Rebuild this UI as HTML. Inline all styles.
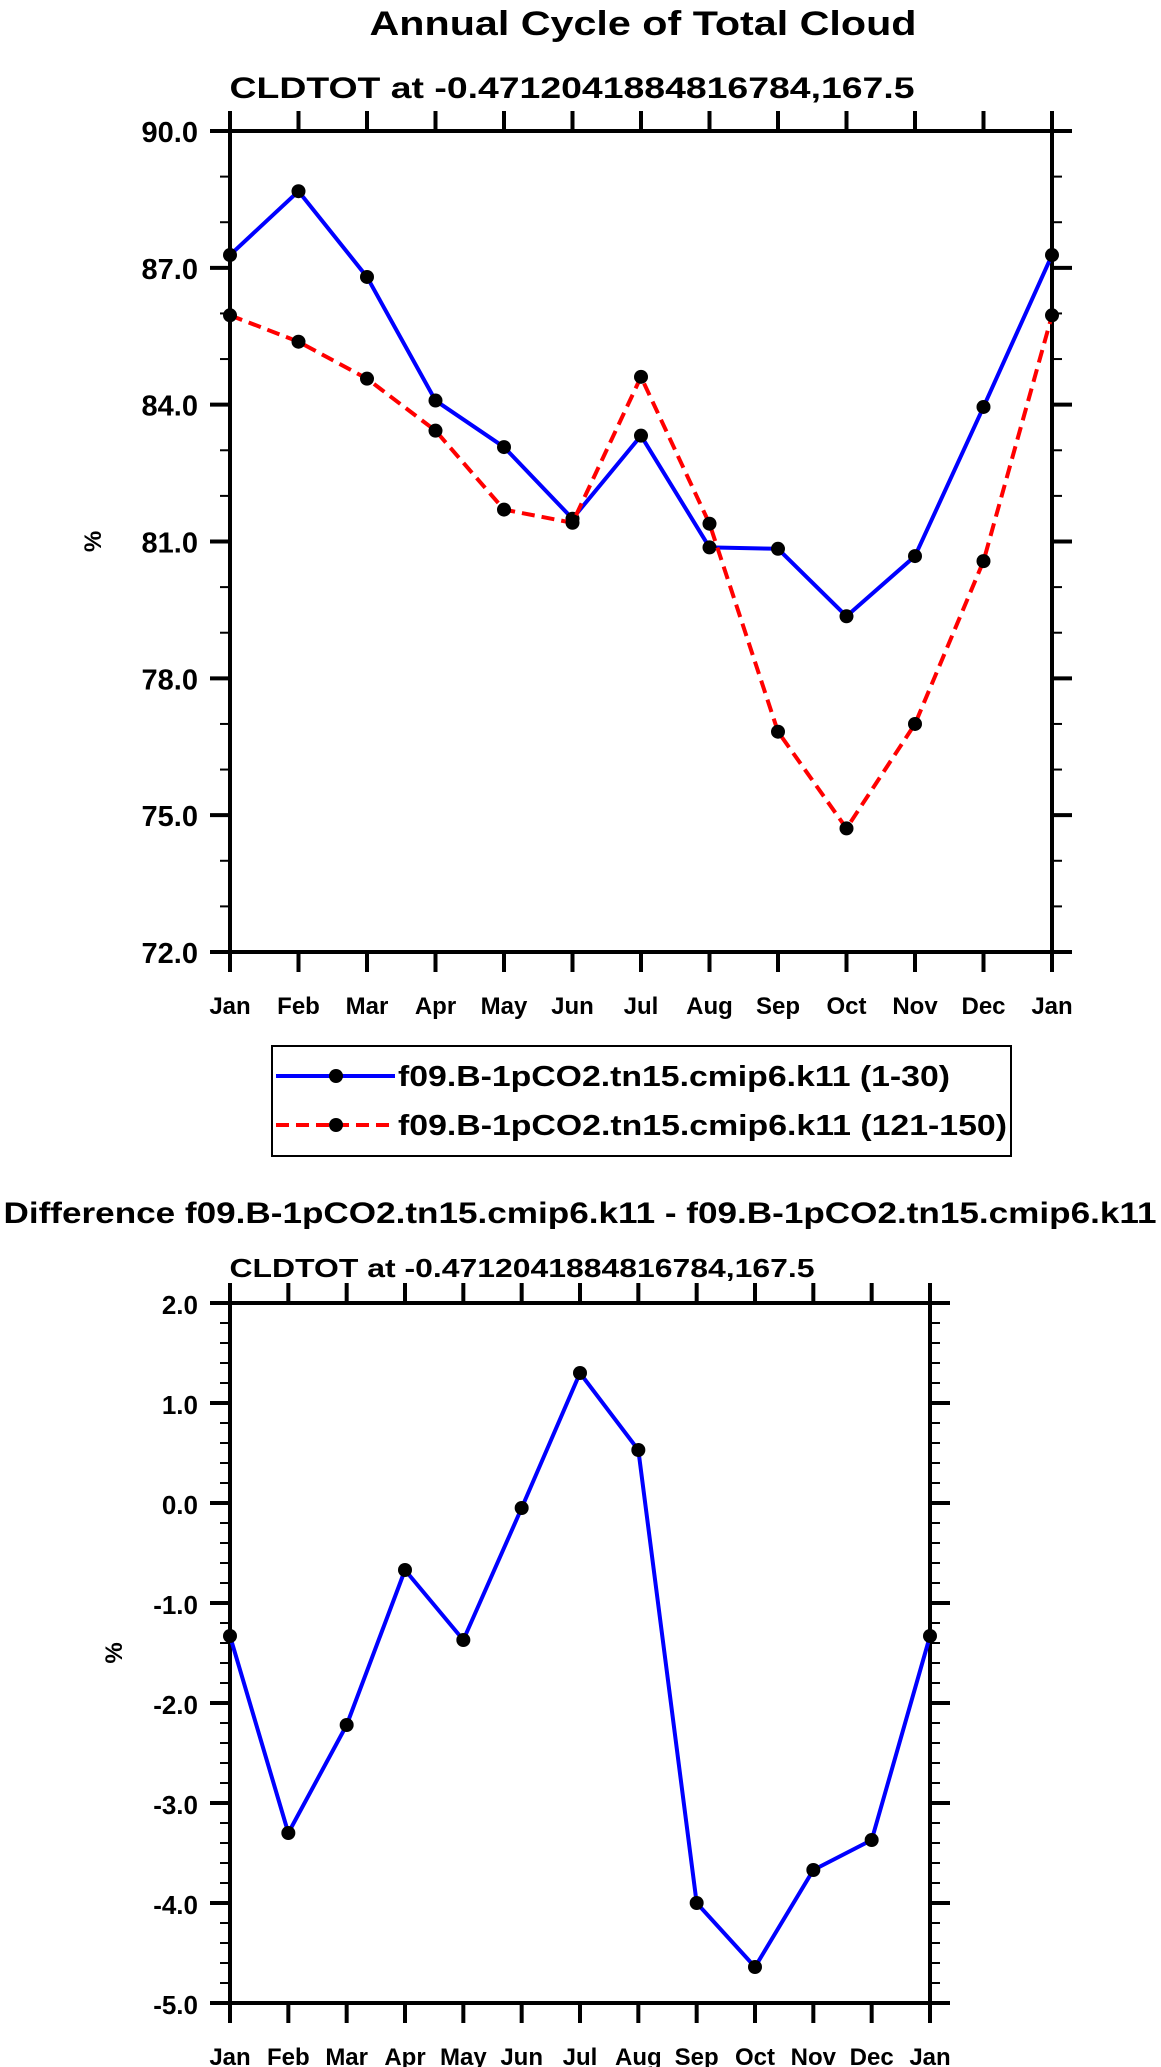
<!DOCTYPE html>
<html><head><meta charset="utf-8"><style>
html,body{margin:0;padding:0;background:#fff}
svg{display:block}
text{font-family:"Liberation Sans",Arial,sans-serif;font-weight:bold;fill:#000}
</style></head><body>
<svg id="svg" width="1161" height="2067" viewBox="0 0 1161 2067" xmlns="http://www.w3.org/2000/svg">
<text x="643" y="35" text-anchor="middle" font-size="34" textLength="547" lengthAdjust="spacingAndGlyphs">Annual Cycle of Total Cloud</text>
<text x="572" y="98" text-anchor="middle" font-size="30" textLength="685" lengthAdjust="spacingAndGlyphs">CLDTOT at -0.4712041884816784,167.5</text>
<g id="top"></g>
<g>
<rect x="272" y="1046" width="739" height="110" fill="none" stroke="#000" stroke-width="2"/>
<g>
<line x1="276" y1="1076" x2="395" y2="1076" stroke="#0000ff" stroke-width="4"/>
<circle cx="336" cy="1076" r="7" fill="#000"/>
<text x="398" y="1086" font-size="29" textLength="552" lengthAdjust="spacingAndGlyphs">f09.B-1pCO2.tn15.cmip6.k11 (1-30)</text>
</g>
<g>
<line x1="276" y1="1125" x2="395" y2="1125" stroke="#ff0000" stroke-width="4" stroke-dasharray="13,7"/>
<circle cx="336" cy="1125" r="7" fill="#000"/>
<text x="398" y="1135" font-size="29" textLength="609" lengthAdjust="spacingAndGlyphs">f09.B-1pCO2.tn15.cmip6.k11 (121-150)</text>
</g>
</g>
<text x="580" y="1223" text-anchor="middle" font-size="30" textLength="1153" lengthAdjust="spacingAndGlyphs">Difference f09.B-1pCO2.tn15.cmip6.k11 - f09.B-1pCO2.tn15.cmip6.k11</text>
<text x="522" y="1277" text-anchor="middle" font-size="26" textLength="585" lengthAdjust="spacingAndGlyphs">CLDTOT at -0.4712041884816784,167.5</text>
<g id="bot"></g>
</svg>
<script>
const months = ["Jan","Feb","Mar","Apr","May","Jun","Jul","Aug","Sep","Oct","Nov","Dec","Jan"];
const early = [87.28,88.68,86.80,84.09,83.07,81.50,83.32,80.87,80.84,79.36,80.68,83.95,87.28];
const late = [85.96,85.38,84.57,83.43,81.70,81.41,84.61,81.39,76.83,74.71,77.00,80.57,85.96];
const diff = [-1.33,-3.30,-2.22,-0.67,-1.37,-0.05,1.30,0.53,-4.00,-4.64,-3.67,-3.37,-1.33];
const topTicks = ["72.0","75.0","78.0","81.0","84.0","87.0","90.0"];
const botTicks = ["-5.0","-4.0","-3.0","-2.0","-1.0","0.0","1.0","2.0"];
const NS="http://www.w3.org/2000/svg";
function mk(p,tag,a){const e=document.createElementNS(NS,tag);for(const k in a)e.setAttribute(k,a[k]);p.appendChild(e);return e;}
function chart(g,o){
  const x=i=>o.L+(o.R-o.L)*i/(months.length-1);
  const y=v=>o.B-(v-o.ymin)/(o.ymax-o.ymin)*(o.B-o.T);
  // minor ticks
  for(let v=o.ymin;v<=o.ymax+1e-9;v+=o.minor){
    const yy=y(v);
    mk(g,'line',{x1:o.L-10,y1:yy,x2:o.L,y2:yy,stroke:'#000','stroke-width':2});
    mk(g,'line',{x1:o.R,y1:yy,x2:o.R+10,y2:yy,stroke:'#000','stroke-width':2});
  }
  o.ticks.forEach(t=>{
    const yy=y(parseFloat(t));
    mk(g,'line',{x1:o.L-20,y1:yy,x2:o.L,y2:yy,stroke:'#000','stroke-width':4});
    mk(g,'line',{x1:o.R,y1:yy,x2:o.R+20,y2:yy,stroke:'#000','stroke-width':4});
    const tx=mk(g,'text',{x:o.L-32,y:yy+11,'text-anchor':'end','font-size':o.fs});
    tx.textContent=t;
    
    
  });
  months.forEach((m,i)=>{
    const xx=x(i);
    mk(g,'line',{x1:xx,y1:o.B,x2:xx,y2:o.B+20,stroke:'#000','stroke-width':4});
    mk(g,'line',{x1:xx,y1:o.T-20,x2:xx,y2:o.T,stroke:'#000','stroke-width':4});
    const tx=mk(g,'text',{x:xx,y:o.B+62,'text-anchor':'middle','font-size':24});
    tx.textContent=m;
    
    
  });
  const fr=mk(g,'rect',{x:o.L,y:o.T,width:o.R-o.L,height:o.B-o.T,fill:'none',stroke:'#000','stroke-width':4});
  
  
  const yt=mk(g,'text',{x:0,y:0,'text-anchor':'middle','font-size':24,transform:`translate(${o.yx},${(o.T+o.B)/2}) rotate(-90)`});
  yt.textContent='%';
  
  
  o.series.forEach(s=>{
    const pl=mk(g,'polyline',{points:s.data.map((v,i)=>x(i)+','+y(v)).join(' '),fill:'none',stroke:s.color,'stroke-width':4,'stroke-dasharray':s.dash||'none','stroke-linejoin':'round'});
    
    
    s.data.forEach((v,i)=>{
      const c=mk(g,'circle',{cx:x(i),cy:y(v),r:7,fill:'#000'});
      
      
    });
  });
}
chart(document.getElementById('top'),{L:230,R:1052,T:131,B:952,ymin:72,ymax:90,minor:1,ticks:topTicks,fs:29,yx:101,
  series:[{data:early,color:'#0000ff',name:'series-1-30'},{data:late,color:'#ff0000',dash:'13,7',name:'series-121-150'}]});
chart(document.getElementById('bot'),{L:230,R:930,T:1303,B:2003,ymin:-5,ymax:2,minor:0.2,ticks:botTicks,fs:26,yx:122,
  series:[{data:diff,color:'#0000ff',name:'difference'}]});
</script>
</body></html>
